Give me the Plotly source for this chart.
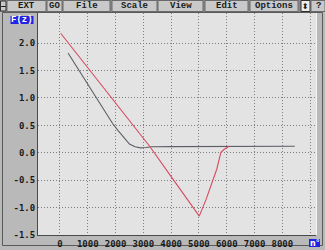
import plotly.graph_objects as go

# ---- data ----
dark_x = [290, 1000, 1900, 2100, 2300, 2500, 2700, 2900, 3100, 3300, 4000, 5000, 6000, 7000, 8450]
dark_y = [1.82, 1.25, 0.53, 0.40, 0.28, 0.16, 0.11, 0.09, 0.095, 0.11, 0.113, 0.115, 0.118, 0.12, 0.12]

red_x = [25, 1500, 2760, 3240, 4000, 5011, 5250, 5515, 5640, 5790, 5900, 6055, 6080]
red_y = [2.18, 1.23, 0.425, 0.11, -0.435, -1.156, -0.86, -0.49, -0.30, 0.01, 0.06, 0.11, 0.12]

x_ticks = [0, 1000, 2000, 3000, 4000, 5000, 6000, 7000, 8000, 9000]
x_labels = ["0", "1000", "2000", "3000", "4000", "5000", "6000", "7000", "8000", ""]
y_ticks = [2.0, 1.5, 1.0, 0.5, 0.0, -0.5, -1.0, -1.5]
y_labels = ["2.0", "1.5", "1.0", "0.5", "0.0", "-0.5", "-1.0", "-1.5"]

menu_items = ["EXT", "GO", "File", "Scale", "View", "Edit", "Options"]
menu_x0 = [7, 47, 63, 112, 158, 205, 250]
menu_x1 = [46, 62, 110, 157, 203, 248, 298]

W, H = 325, 250
L, R, T, B = 38, 9, 13, 15
PW, PH = W - L - R, H - T - B


def px(x):
    return (x - L) / PW


def py(y):
    return (H - B - y) / PH


fig = go.Figure()
fig.add_trace(go.Scatter(x=dark_x, y=dark_y, mode="lines",
                         line=dict(color="#5e5e68", width=1.1), hoverinfo="skip"))
fig.add_trace(go.Scatter(x=red_x, y=red_y, mode="lines",
                         line=dict(color="#d64c60", width=1.1), hoverinfo="skip"))

tickfont = dict(family="DejaVu Sans Mono", size=9, color="#1a1a1a", weight="bold")

fig.update_layout(
    width=W, height=H,
    margin=dict(l=L, r=R, t=T, b=B, pad=0, autoexpand=False),
    paper_bgcolor="#b9b9b9",
    plot_bgcolor="#e3e3e3",
    showlegend=False,
    xaxis=dict(range=[-790, 9210], tickvals=x_ticks, ticktext=x_labels,
               showgrid=True, gridcolor="#7e7e7e", griddash="1px,2px", gridwidth=1,
               zeroline=False, showline=True, linecolor="#4a4a4a", linewidth=1,
               ticks="", ticklen=0, tickfont=tickfont, fixedrange=True, automargin=False),
    yaxis=dict(range=[-1.5, 2.55], tickvals=y_ticks, ticktext=y_labels,
               showgrid=True, gridcolor="#7e7e7e", griddash="1px,2px", gridwidth=1,
               zeroline=False, showline=True, linecolor="#4a4a4a", linewidth=1,
               ticks="", ticklen=0, tickfont=tickfont, fixedrange=True, automargin=False),
)

shapes = []
annotations = []


def label(x, y, text, size=9, color="#1a1a1a", family="Liberation Mono", bold=True):
    annotations.append(dict(x=px(x), y=py(y), xref="paper", yref="paper", text=text,
                            xanchor="center", yanchor="middle", showarrow=False,
                            font=dict(family=family, size=size, color=color,
                                      weight="bold" if bold else "normal")))


# outer frame
shapes.append(dict(type="rect", xref="paper", yref="paper",
                   x0=px(2.5), x1=px(322.5), y0=py(245.5), y1=py(12.5),
                   line=dict(color="#5a5a5a", width=1), fillcolor="rgba(0,0,0,0)", layer="below"))
# plot right edge light
shapes.append(dict(type="line", xref="paper", yref="paper", x0=px(316.5), x1=px(316.5),
                   y0=py(235), y1=py(13), line=dict(color="#f4f4f4", width=1)))

# toolbar background
shapes.append(dict(type="rect", xref="paper", yref="paper",
                   x0=px(0), x1=px(325), y0=py(12), y1=py(0),
                   line=dict(width=0), fillcolor="#8a8a8a"))
# minus box
shapes.append(dict(type="rect", xref="paper", yref="paper",
                   x0=px(0.5), x1=px(6), y0=py(11), y1=py(1),
                   line=dict(color="#303030", width=1), fillcolor="#c8c8c8"))
label(3.3, 6, "−", size=8, family="DejaVu Sans")
for name, a, b in zip(menu_items, menu_x0, menu_x1):
    shapes.append(dict(type="rect", xref="paper", yref="paper",
                       x0=px(a), x1=px(b), y0=py(11.5), y1=py(0.5),
                       line=dict(color="#6a6a6a", width=1), fillcolor="#c9c9c9"))
    label((a + b) / 2, 6, name)
# arrow box and ?
shapes.append(dict(type="rect", xref="paper", yref="paper",
                   x0=px(301), x1=px(310), y0=py(11.5), y1=py(0.5),
                   line=dict(color="#303030", width=1), fillcolor="#ececec"))
label(305.5, 6, "⬍", size=8, family="DejaVu Sans", bold=False)
shapes.append(dict(type="rect", xref="paper", yref="paper",
                   x0=px(311), x1=px(325), y0=py(11.5), y1=py(0.5),
                   line=dict(color="#6a6a6a", width=1), fillcolor="#c9c9c9"))
label(318, 6, "?")

# F(z) label
shapes.append(dict(type="rect", xref="paper", yref="paper",
                   x0=px(10.5), x1=px(33.5), y0=py(24), y1=py(16),
                   line=dict(width=0), fillcolor="#2424e0"))
label(22, 20, "F(z)", color="#ffffff")
# bottom-right box
shapes.append(dict(type="rect", xref="paper", yref="paper",
                   x0=px(309), x1=px(320), y0=py(247), y1=py(239),
                   line=dict(width=0), fillcolor="#2424e0"))
label(314.5, 243, "n°", size=8, color="#ffffff", family="DejaVu Sans")

fig.update_layout(shapes=shapes, annotations=annotations)
fig.write_html("out.html")
